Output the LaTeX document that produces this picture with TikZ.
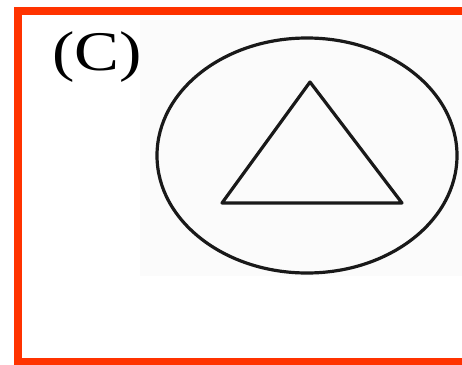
\documentclass[tikz,border=0pt]{standalone}
\usepackage{fontspec}
\setmainfont{Liberation Serif}
\definecolor{framered}{HTML}{FF3300}
\tikzset{
  frameline/.style={draw=framered,line width=8pt},
  outline/.style={draw=black!90,line width=3.2pt,line join=round},
  panel/.style={font=\fontsize{56}{62}\selectfont,inner sep=0pt,xscale=1.2,transform shape}
}

\begin{document}
\begin{tikzpicture}[x=1pt,y=-1pt]
  \useasboundingbox (0,0) rectangle (462,364);
  \fill[black!1.5] (140,20) rectangle (462,276);
  \draw[frameline] (470,11) -- (18,11) -- (18,362) -- (470,362);
  \node[panel,anchor=base] (label) at (97,70) {(C)};
  % ellipse with the triangle inside
  \coordinate (centre) at (307,155.5);
  \draw[outline] (centre) ellipse (150 and 117.5);
  \coordinate (apex) at (310,82);
  \coordinate (left) at (222,203);
  \coordinate (right) at (402,203);
  \draw[outline] (apex) -- (left) -- (right) -- cycle;
\end{tikzpicture}
\end{document}
